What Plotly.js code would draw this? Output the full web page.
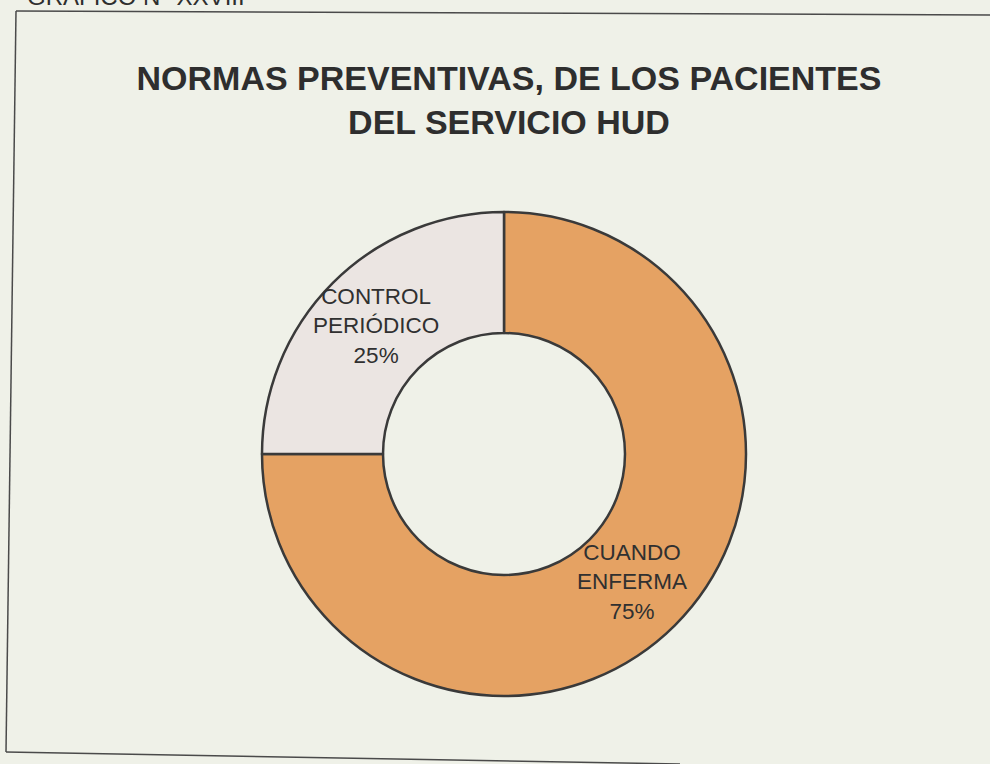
<!DOCTYPE html>
<html>
<head>
<meta charset="utf-8">
<script src="https://cdn.plot.ly/plotly-3.0.1.min.js"></script>
<style>
  html, body { margin: 0; padding: 0; background: #eff1e8; }
  #chart { width: 990px; height: 764px; }
</style>
</head>
<body>
<div id="chart"></div>
<script>
// ---- data ----
const categories = ["CUANDO ENFERMA", "CONTROL PERIÓDICO"];
const sliceText = ["CUANDO<br>ENFERMA", "CONTROL<br>PERIÓDICO"];
const values = [75, 25];
const sliceColors = ["#e5a263", "#ebe5e2"];
const chartTitle = "NORMAS PREVENTIVAS, DE LOS PACIENTES<br>DEL SERVICIO HUD";
const headerText = "GRAFICO N° XXVIII";

const W = 990, H = 764;
const px = x => x / W;
const py = y => 1 - y / H;

// donut geometry (pixels)
const CX = 504, CY = 454, R = 242, HOLE = 0.5;

const trace = {
  type: "pie",
  labels: categories,
  values: values,
  textinfo: "none",
  hole: HOLE,
  sort: false,
  direction: "clockwise",
  rotation: 0,
  marker: { colors: sliceColors, line: { color: "#3a3a3a", width: 2.5 } },
  domain: { x: [px(CX - R), px(CX + R)], y: [py(CY + R), py(CY - R)] },
  showlegend: false,
  hoverinfo: "label+percent"
};

// slice labels placed at the middle of the ring on each slice's bisector (derived from the values)
const total = values.reduce((a, b) => a + b, 0);
let cum = 0;
const labelAnns = values.map((v, i) => {
  const mid = (cum + v / 2) / total * 2 * Math.PI;
  cum += v;
  const rm = R * (1 + HOLE) / 2;
  const x = CX + rm * Math.sin(mid);
  const y = CY - rm * Math.cos(mid);
  const pct = Math.round(v / total * 100) + "%";
  return {
    text: sliceText[i] + "<br>" + pct,
    xref: "paper", yref: "paper",
    x: px(x), y: py(y), xanchor: "center", yanchor: "middle",
    showarrow: false,
    font: { family: "Liberation Sans, Arial, sans-serif", size: 22.5, color: "#303030" }
  };
});

const layout = {
  width: W, height: H,
  margin: { l: 0, r: 0, t: 0, b: 0 },
  paper_bgcolor: "#eff1e8",
  plot_bgcolor: "#eff1e8",
  title: {
    text: "<b>" + chartTitle + "</b>",
    font: { family: "Liberation Sans, Arial, sans-serif", size: 34, color: "#2e2e2e" },
    x: px(509), xanchor: "center",
    y: py(90), yanchor: "middle",
    xref: "container", yref: "container"
  },
  annotations: [{
    text: headerText,
    xref: "paper", yref: "paper",
    x: px(25), xanchor: "left",
    y: py(12), yanchor: "bottom",
    showarrow: false,
    font: { family: "Liberation Sans, Arial, sans-serif", size: 24, color: "#2e2e2e" }
  }].concat(labelAnns),
  shapes: [
    { type: "line", xref: "paper", yref: "paper", x0: px(16), y0: py(11), x1: px(990), y1: py(15),
      line: { color: "#4a4a4a", width: 1.5 } },
    { type: "line", xref: "paper", yref: "paper", x0: px(16), y0: py(11), x1: px(6), y1: py(752),
      line: { color: "#4a4a4a", width: 1.5 } },
    { type: "line", xref: "paper", yref: "paper", x0: px(6), y0: py(752), x1: px(680), y1: py(764),
      line: { color: "#4a4a4a", width: 1.5 } }
  ]
};

Plotly.newPlot("chart", [trace], layout, { displayModeBar: false, staticPlot: true });
</script>
</body>
</html>
